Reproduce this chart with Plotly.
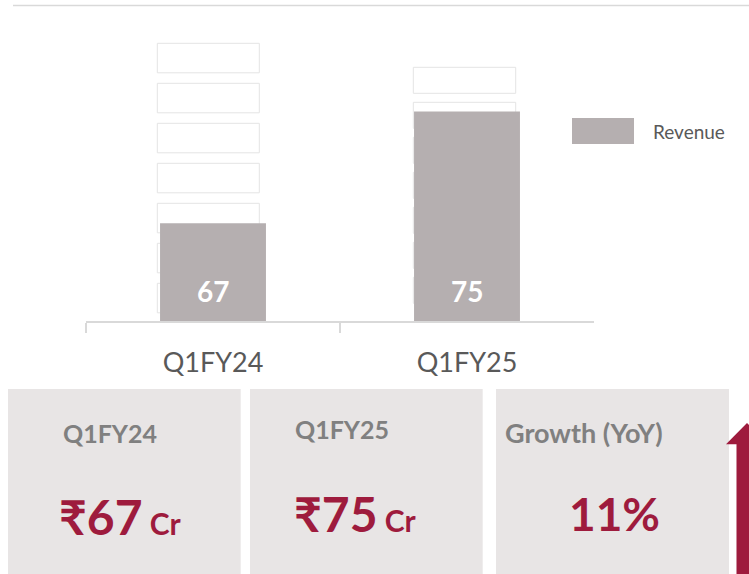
import plotly.graph_objects as go

# ---- data ----
categories = ["Q1FY24", "Q1FY25"]
revenue = [67, 75]
series_name = "Revenue"
growth_label = "Growth (YoY)"
growth_pct = [11]
unit = "Cr"
currency = "₹"

W, H = 749, 574
FONT = "Lato"
GREY_TXT = "#595959"
BAR = "#B5AFB0"
RED = "#9E1B3D"
CARD = "#E8E5E5"


def px(x):
    return x / W


def py(y):
    return 1 - y / H


fig = go.Figure()
fig.add_trace(go.Bar(
    x=categories, y=revenue, name=series_name,
    marker=dict(color=BAR, line=dict(width=0)),
    width=0.417, showlegend=False, hoverinfo="x+y",
))

shapes = []
# top rule
shapes.append(dict(type="line", xref="paper", yref="paper",
                   x0=px(13), x1=px(760), y0=py(5.5), y1=py(5.5),
                   line=dict(color="#D9D9D9", width=1.5)))
# decorative stacked boxes behind bars
for k in range(7):
    t = 43.3 + 40 * k
    shapes.append(dict(type="rect", xref="paper", yref="paper", layer="below",
                       x0=px(157.3), x1=px(259.3), y0=py(t + 29.5), y1=py(t),
                       line=dict(color="#E4E4E4", width=1), fillcolor="white"))
for k in range(7):
    t = 67.3 + 35 * k
    shapes.append(dict(type="rect", xref="paper", yref="paper", layer="below",
                       x0=px(413.3), x1=px(515.7), y0=py(t + 26), y1=py(t),
                       line=dict(color="#E4E4E4", width=1), fillcolor="white"))
# legend swatch
shapes.append(dict(type="rect", xref="paper", yref="paper",
                   x0=px(572), x1=px(634), y0=py(144), y1=py(118),
                   line=dict(width=0), fillcolor=BAR))
# summary cards
for (a, b) in [(8, 240.7), (250, 482.7), (496, 729)]:
    shapes.append(dict(type="rect", xref="paper", yref="paper", layer="below",
                       x0=px(a), x1=px(b), y0=py(585), y1=py(389),
                       line=dict(width=0), fillcolor=CARD))
# up arrow
pts = [(736.5, 590), (736.5, 444.3), (726, 444.3), (747, 423),
       (768, 444.3), (757.5, 444.3), (757.5, 590)]
path = "M " + " L ".join(f"{px(x):.5f},{py(y):.5f}" for x, y in pts) + " Z"
shapes.append(dict(type="path", xref="paper", yref="paper", path=path,
                   line=dict(width=0), fillcolor=RED))

ann = []
# value labels inside bars
for c, v in zip(categories, revenue):
    ann.append(dict(x=c, y=62.15, xref="x", yref="y", text=f"<b>{v}</b>",
                    showarrow=False, font=dict(family=FONT, size=28, color="white"),
                    xanchor="center", yanchor="middle"))
# legend text
ann.append(dict(x=px(651), y=py(131.5), xref="paper", yref="paper", text=series_name,
                showarrow=False, font=dict(family=FONT, size=19, color=GREY_TXT),
                xanchor="left", yanchor="middle"))
# card headers
heads = [(categories[0], 109.7, 432.5, "center", 25),
         (categories[1], 342, 429, "center", 25),
         (growth_label, 503, 432.5, "left", 27)]
for txt, x, y, anc, sz in heads:
    ann.append(dict(x=px(x), y=py(y), xref="paper", yref="paper", text=f"<b>{txt}</b>",
                    showarrow=False, font=dict(family=FONT, size=sz, color="#808080"),
                    xanchor=anc, yanchor="middle"))
# card values
vals = [(f"{currency}{revenue[0]}", 120.5, 516), (f"{currency}{revenue[1]}", 355, 513)]
for txt, x, y in vals:
    ann.append(dict(x=px(x), y=py(y), xref="paper", yref="paper",
                    text=f"<b>{txt}<span style='font-size:30px'> {unit}</span></b>",
                    showarrow=False, font=dict(family=FONT, size=48, color=RED),
                    xanchor="center", yanchor="middle"))
ann.append(dict(x=px(614.5), y=py(513), xref="paper", yref="paper",
                text=f"<b>{growth_pct[0]}%</b>",
                showarrow=False, font=dict(family=FONT, size=46, color=RED),
                xanchor="center", yanchor="middle"))

fig.update_layout(
    width=W, height=H, margin=dict(l=0, r=0, t=0, b=0),
    paper_bgcolor="white", plot_bgcolor="rgba(0,0,0,0)",
    shapes=shapes, annotations=ann, showlegend=False,
    xaxis=dict(domain=[px(86), px(594)], type="category", range=[-0.5, 1.5],
               showline=True, linecolor="#D9D9D9", linewidth=1.5,
               ticks="outside", tickson="boundaries", ticklen=10, tickcolor="#D9D9D9",
               tickwidth=1.5, ticklabelstandoff=17,
               tickfont=dict(family=FONT, size=27, color=GREY_TXT),
               showgrid=False, zeroline=False, fixedrange=True),
    yaxis=dict(domain=[py(321), py(40)], range=[60, 80.13], visible=False,
               fixedrange=True),
)

fig.write_html(
    "out.html",
    config={"displayModeBar": False},
    post_script="document.body.style.margin='0';document.body.style.overflow='hidden';",
)
